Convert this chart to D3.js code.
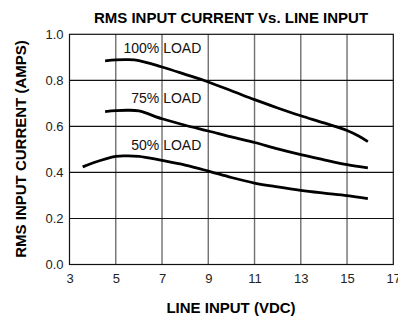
<!DOCTYPE html>
<html>
<head>
<meta charset="utf-8">
<script src="https://cdn.jsdelivr.net/npm/d3@7"></script>
<style>
  body { margin: 0; background: #fff; }
  svg { display: block; font-family: "Liberation Sans", Arial, sans-serif; }
</style>
</head>
<body>
<svg id="chart" width="398" height="317"></svg>
<script>
// data
const xTicks = [3, 5, 7, 9, 11, 13, 15, 17];
const yTicks = [0.0, 0.2, 0.4, 0.6, 0.8, 1.0];

const load100X = [4.54, 5, 5.5, 6, 7, 8, 9, 10, 11, 12, 13, 14, 15, 15.5, 15.9];
const load100Y = [0.885, 0.889, 0.890, 0.886, 0.858, 0.826, 0.793, 0.755, 0.716, 0.680, 0.646, 0.615, 0.582, 0.558, 0.534];

const load75X = [4.54, 5, 5.5, 6, 7, 8, 9, 10, 11, 12, 13, 14, 15, 15.9];
const load75Y = [0.664, 0.668, 0.670, 0.667, 0.633, 0.605, 0.580, 0.554, 0.530, 0.502, 0.477, 0.455, 0.434, 0.420];

const load50X = [3.57, 4, 5, 5.5, 6, 7, 8, 9, 10, 11, 12, 13, 14, 15, 15.9];
const load50Y = [0.424, 0.441, 0.470, 0.472, 0.470, 0.452, 0.432, 0.406, 0.378, 0.354, 0.337, 0.322, 0.310, 0.299, 0.286];

const curveNames = ["100% LOAD", "75% LOAD", "50% LOAD"];

const series = [
  { name: curveNames[0], xs: load100X, ys: load100Y, ly: 0.92 },
  { name: curveNames[1], xs: load75X, ys: load75Y, ly: 0.703 },
  { name: curveNames[2], xs: load50X, ys: load50Y, ly: 0.497 }
];

const svg = d3.select("#chart");

let plotLeft = 69.5, plotRight = 393.3, plotTop = 34.3, plotBottom = 264.5;

const x = d3.scaleLinear().domain([3, 17]).range([plotLeft, plotRight]);
const y = d3.scaleLinear().domain([0, 1]).range([plotBottom, plotTop]);

// title
svg.append("text")
  .attr("x", 231)
  .attr("y", 23.3)
  .attr("text-anchor", "middle")
  .style("font-size", "15px")
  .style("font-weight", "bold")
  .text("RMS INPUT CURRENT Vs. LINE INPUT");

// vertical grid (gray)
svg.append("g")
  .selectAll("line")
  .data(xTicks.slice(1, -1))
  .enter()
  .append("line")
  .attr("x1", d => x(d)).attr("x2", d => x(d))
  .attr("y1", plotTop).attr("y2", plotBottom)
  .attr("stroke", "#707070")
  .attr("stroke-width", 1.4);

// horizontal grid (black)
svg.append("g")
  .selectAll("line")
  .data(yTicks.slice(1, -1))
  .enter()
  .append("line")
  .attr("x1", plotLeft).attr("x2", plotRight)
  .attr("y1", d => y(d)).attr("y2", d => y(d))
  .attr("stroke", "#111")
  .attr("stroke-width", 1.1);

// frame
svg.append("rect")
  .attr("x", plotLeft).attr("y", plotTop)
  .attr("width", plotRight - plotLeft).attr("height", plotBottom - plotTop)
  .attr("fill", "none")
  .attr("stroke", "#111")
  .attr("stroke-width", 1.2);

// axes: labels only
const xAxis = d3.axisBottom(x).tickValues(xTicks).tickSize(0).tickPadding(9).tickFormat(d3.format("d"));
svg.append("g")
  .attr("transform", `translate(0,${plotBottom})`)
  .call(xAxis)
  .call(g => g.select(".domain").remove())
  .call(g => g.selectAll("text").attr("fill", "#222").style("font-size", "13px")
    .style("font-family", "'Liberation Sans', Arial, sans-serif"));

const yAxis = d3.axisLeft(y).tickValues(yTicks).tickSize(0).tickPadding(6).tickFormat(d3.format(".1f"));
svg.append("g")
  .attr("transform", `translate(${plotLeft},0)`)
  .call(yAxis)
  .call(g => g.select(".domain").remove())
  .call(g => g.selectAll("text").attr("fill", "#222").style("font-size", "13px")
    .style("font-family", "'Liberation Sans', Arial, sans-serif"));

// axis titles
svg.append("text")
  .attr("x", 231)
  .attr("y", 313)
  .attr("text-anchor", "middle")
  .style("font-size", "15px")
  .style("font-weight", "bold")
  .text("LINE INPUT (VDC)");

svg.append("text")
  .attr("transform", "translate(26,149) rotate(-90)")
  .attr("text-anchor", "middle")
  .style("font-size", "15px")
  .style("font-weight", "bold")
  .text("RMS INPUT CURRENT (AMPS)");

// curves
const line = d3.line()
  .x(d => x(d[0]))
  .y(d => y(d[1]))
  .curve(d3.curveCatmullRom);

svg.selectAll(".curve")
  .data(series)
  .enter()
  .append("path")
  .attr("class", "curve")
  .attr("fill", "none")
  .attr("stroke", "#000")
  .attr("stroke-width", 2.8)
  .attr("d", d => line(d.xs.map((v, i) => [v, d.ys[i]])));

// curve labels, right edge just past the x=7 grid line
svg.selectAll(".lbl")
  .data(series)
  .enter()
  .append("text")
  .attr("class", "lbl")
  .attr("x", x(8.7))
  .attr("y", d => y(d.ly))
  .attr("text-anchor", "end")
  .attr("fill", "#111")
  .style("font-size", "14px")
  .text(d => d.name);
</script>
</body>
</html>
